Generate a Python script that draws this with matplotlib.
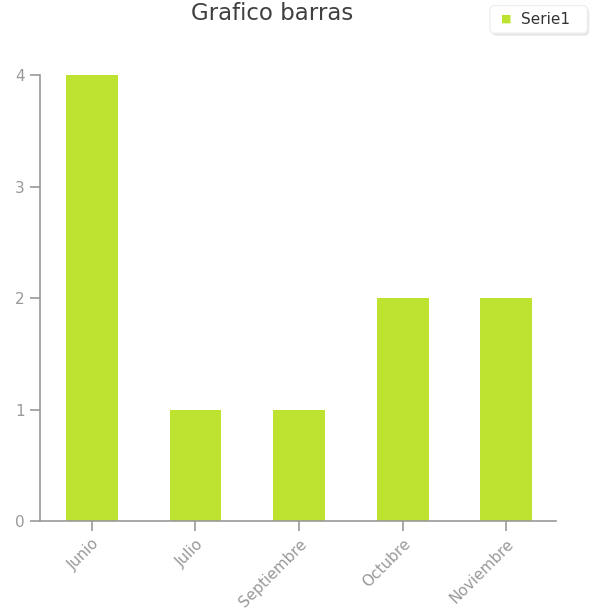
import matplotlib.pyplot as plt
from matplotlib.patches import FancyBboxPatch

meses = ["Junio", "Julio", "Septiembre", "Octubre", "Noviembre"]
serie1 = [4, 1, 1, 2, 2]

verde = "#bde22f"
gris = "#999999"

fig = plt.figure(figsize=(5.91, 6.15), dpi=100)
ax = fig.add_axes([0.0677, 0.1528, 0.8731, 0.7252])

x = range(len(meses))
ax.bar(x, serie1, width=0.5, color=verde, label="Serie1")

ax.set_xlim(-0.5, 4.48)
ax.set_ylim(0, 4)
ax.set_yticks([0, 1, 2, 3, 4])
ax.set_xticks(list(x))
ax.set_xticklabels(meses, rotation=45, ha="right", rotation_mode="anchor")

for s in ["top", "right"]:
    ax.spines[s].set_visible(False)
for s in ["left", "bottom"]:
    ax.spines[s].set_color(gris)
    ax.spines[s].set_linewidth(1.2)
ax.tick_params(colors=gris, labelsize=11, length=7, width=1.2, pad=4)

fig.text(0.46, 0.978, "Grafico barras", ha="center", va="center", fontsize=16.5, color="#404040")

# leyenda con sombra
sombra = FancyBboxPatch((0.832, 0.942), 0.165, 0.045, boxstyle="round,pad=0,rounding_size=0.008",
                        transform=fig.transFigure, facecolor="#e6e6e6", edgecolor="none")
caja = FancyBboxPatch((0.829, 0.946), 0.165, 0.045, boxstyle="round,pad=0,rounding_size=0.008",
                      transform=fig.transFigure, facecolor="white", edgecolor="#eeeeee")
fig.patches.extend([sombra, caja])
fig.text(0.857, 0.969, "\u25a0", ha="center", va="center", fontsize=8, color=verde)
fig.text(0.882, 0.969, "Serie1", ha="left", va="center", fontsize=11, color="#333333")

fig.savefig("out.png", dpi=100)
